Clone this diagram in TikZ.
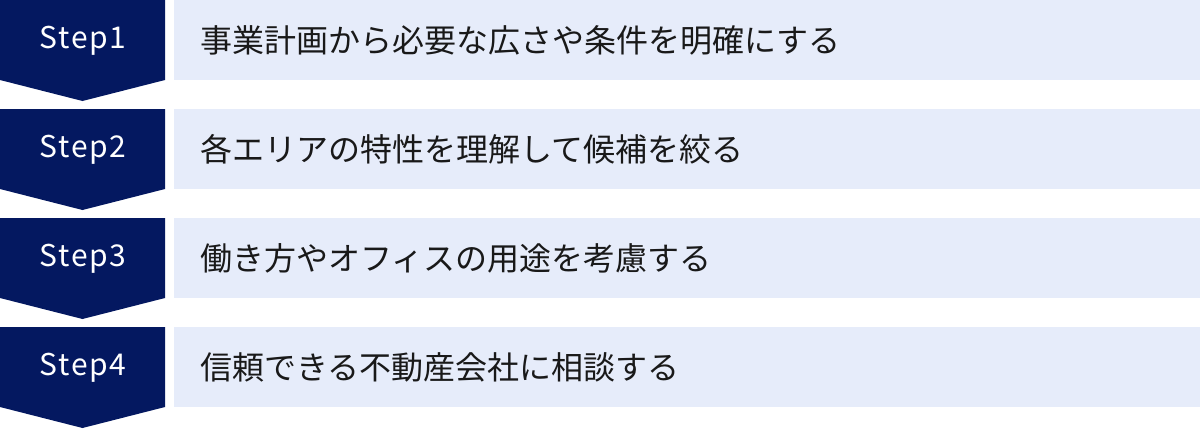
\documentclass[tikz,border=0pt]{standalone}
\usepackage{fontspec}
\usepackage{xcolor}
\setmainfont{Noto Sans CJK JP}
\newfontfamily\stepfont[LetterSpace=6]{Noto Sans CJK JP}
\definecolor{navy}{RGB}{4,24,96}
\definecolor{paleblue}{RGB}{230,236,250}

\begin{document}
\begin{tikzpicture}[x=0.75pt, y=-0.75pt,
    chevron/.style={fill=navy},
    steplabel/.style={text=white, font=\stepfont\fontsize{22.5}{22.5}\selectfont},
    taskbox/.style={fill=paleblue, anchor=west, minimum height=60pt, inner ysep=0pt,
      inner xsep=19.5pt, text width=730.5pt, align=left, text=black!90,
      font=\fontsize{24}{24}\selectfont}]
    \useasboundingbox (0,0) rectangle (1200,429);

    % Steps
    \foreach \i/\task in {1/事業計画から必要な広さや条件を明確にする,
                          2/各エリアの特性を理解して候補を絞る,
                          3/働き方やオフィスの用途を考慮する,
                          4/信頼できる不動産会社に相談する} {
        \pgfmathsetmacro{\top}{(\i-1)*109}
        % Chevron
        \fill[chevron] (0,\top) -- (165,\top) -- (165,\top+80) -- (82.5,\top+101)
            -- (0,\top+80) -- cycle;
        \node[steplabel] (s\i) at (83,\top+41) {Step\i};
        % Task
        \node[taskbox] (t\i) at (174,\top+40) {\task};
    }
\end{tikzpicture}
\end{document}
